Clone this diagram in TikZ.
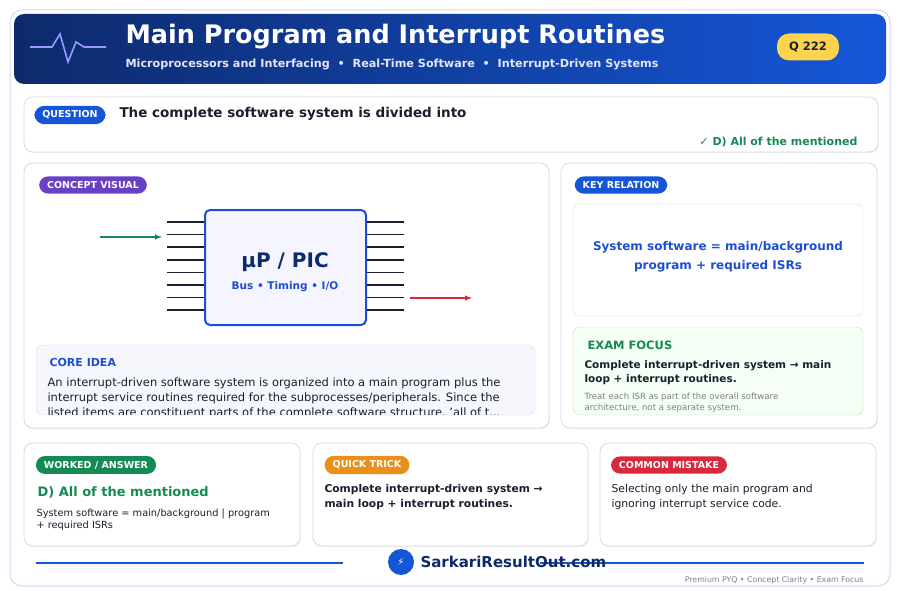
\documentclass[tikz,border=0pt]{standalone}
\usepackage{fontspec}
\setmainfont{DejaVu Sans}
\usetikzlibrary{positioning,shadows}
\definecolor{navy}{HTML}{0D2A6B}
\definecolor{royal}{HTML}{1556D8}
\definecolor{inkblue}{HTML}{1E4FD0}
\definecolor{okgreen}{HTML}{168A55}
\definecolor{alarm}{HTML}{D8283C}
\definecolor{amber}{HTML}{E8901A}
\definecolor{grape}{HTML}{6A3FC8}
\definecolor{edge}{HTML}{D6DCE8}
\definecolor{soft}{HTML}{F5F7FC}
\definecolor{dark}{HTML}{1A1F2E}
\definecolor{gold}{HTML}{FCD34D}
\tikzset{
  card/.style={draw=edge, fill=white, rounded corners=9pt, line width=0.8pt, drop shadow={opacity=0.12, shadow xshift=0.8pt, shadow yshift=-1.2pt}},
  pill/.style={fill=#1, text=white, rounded corners=9pt, font=\bfseries\fontsize{9.5}{10}\selectfont, inner xsep=8pt, inner ysep=5pt},
  body/.style={text=dark, align=left, anchor=north west, font=\fontsize{11.5}{15}\selectfont},
  pin/.style={line width=1.5pt, dark},
}
\begin{document}
\begin{tikzpicture}[x=1pt, y=-1pt]
\useasboundingbox (0,0) rectangle (900,591);
\fill[white] (0,0) rectangle (900,591);
% frame and header
\draw[edge!70!blue!40, fill=white, rounded corners=12pt, line width=1pt] (10,10) rectangle (890,586);
\shade[left color=navy, right color=royal, rounded corners=10pt] (14,14) rectangle (886,84);
\draw[line width=1.6pt, blue!40!white] (30,47) -- (52,47) -- (60,34) -- (68,62) -- (76,42) -- (84,47) -- (106,47);
\node[anchor=west, text=white, font=\bfseries\fontsize{25.5}{27}\selectfont] (title) at (122,37) {Main Program and Interrupt Routines};
\node[anchor=west, text=blue!10!white, font=\bfseries\fontsize{11.2}{12}\selectfont] (sub) at (122,64) {Microprocessors and Interfacing \ • \ Real-Time Software \ • \ Interrupt-Driven Systems};
\node[fill=gold, text=dark, rounded corners=12pt, font=\bfseries\fontsize{11.5}{12}\selectfont, minimum width=62pt, minimum height=27pt] (qno) at (808,47) {Q 222};
% question
\draw[card] (24,97) rectangle (878,152);
\node[pill=royal, rounded corners=10pt] (qpill) at (70,115) {QUESTION};
\node[anchor=west, text=dark, font=\bfseries\fontsize{13.5}{14}\selectfont] (qtext) at (116,114) {The complete software system is divided into};
\node[anchor=east, text=okgreen, font=\bfseries\fontsize{11}{12}\selectfont] (qans) at (861,142) {✓ D) All of the mentioned};
% concept visual
\draw[card] (24,163) rectangle (549,428);
\node[pill=grape] (cpill) at (93,185) {CONCEPT VISUAL};
\foreach \k in {0,...,7} {
  \draw[pin] (167,{222+12.6*\k}) -- (205,{222+12.6*\k});
  \draw[pin] (366,{222+12.6*\k}) -- (404,{222+12.6*\k});
}
\node[draw=inkblue, fill=blue!4, line width=2pt, rounded corners=5pt, minimum width=161pt, minimum height=115pt] (chip) at (285.5,267.5) {};
\node[text=navy, font=\bfseries\fontsize{20}{21}\selectfont] (chipname) at (285,262) {μP / PIC};
\node[text=inkblue, font=\bfseries\fontsize{10.5}{12}\selectfont] (chipbus) at (285,287) {Bus • Timing • I/O};
\coordinate (inA) at (100,237);
\coordinate (inB) at (162,237);
\coordinate (outA) at (410,298);
\coordinate (outB) at (472,298);
\draw[-latex, okgreen, line width=1.4pt] (inA) -- (inB);
\draw[-latex, alarm, line width=1.4pt] (outA) -- (outB);
\draw[edge, fill=soft, rounded corners=7pt] (36,345) rectangle (535,415);
\node[anchor=west, text=inkblue, font=\bfseries\fontsize{11}{12}\selectfont] (core) at (46,362) {CORE IDEA};
\begin{scope}
\clip (36,372) rectangle (535,414);
\node[body] (coretext) at (44,374) {An interrupt-driven software system is organized into a main program plus the\\interrupt service routines required for the subprocesses/peripherals. Since the\\listed items are constituent parts of the complete software structure, 'all of t...};
\end{scope}
% key relation
\draw[card] (561,163) rectangle (877,428);
\node[pill=royal] (kpill) at (621,185) {KEY RELATION};
\draw[edge, fill=white, rounded corners=7pt] (573,204) rectangle (863,316);
\node[text=inkblue, align=center, font=\bfseries\fontsize{12}{19}\selectfont] (krel) at (718,257) {System software = main/background\\program + required ISRs};
\draw[green!60!gray!40, fill=green!4, rounded corners=7pt] (573,327) rectangle (863,415);
\node[anchor=west, text=okgreen, font=\bfseries\fontsize{11.5}{12}\selectfont] (exam) at (584,345) {EXAM FOCUS};
\node[body, font=\bfseries\fontsize{10.5}{13.5}\selectfont] (examtext) at (581,357) {Complete interrupt-driven system → main\\loop + interrupt routines.};
\node[body, text=gray, font=\fontsize{8.6}{11.5}\selectfont] (examnote) at (581,389) {Treat each ISR as part of the overall software\\architecture, not a separate system.};
% bottom cards
\draw[card] (24,443) rectangle (300,546);
\draw[card] (313,443) rectangle (588,546);
\draw[card] (600,443) rectangle (876,546);
\node[pill=okgreen] (wpill) at (96,465) {WORKED / ANSWER};
\node[anchor=west, text=okgreen, font=\bfseries\fontsize{13}{14}\selectfont] (wans) at (34,492) {D) All of the mentioned};
\node[body, font=\fontsize{9.8}{12}\selectfont] (wtext) at (33,505) {System software = main/background | program\\+ required ISRs};
\node[pill=amber] (tpill) at (367,465) {QUICK TRICK};
\node[body, font=\bfseries\fontsize{10.7}{14.5}\selectfont] (ttext) at (321,481) {Complete interrupt-driven system →\\main loop + interrupt routines.};
\node[pill=alarm] (mpill) at (669,465) {COMMON MISTAKE};
\node[body, font=\fontsize{10.8}{14.5}\selectfont] (mtext) at (608,481) {Selecting only the main program and\\ignoring interrupt service code.};
% footer
\coordinate (fa) at (36,563);
\coordinate (fb) at (343,563);
\coordinate (fc) at (864,563);
\draw[royal, line width=1.3pt] (fa) -- (fb);
\draw[royal, line width=1.3pt] (fb -| 540,0) -- (fc);
\node[circle, fill=royal, minimum size=26pt, inner sep=0pt, text=white, font=\fontsize{10}{10}\selectfont] (logo) at (401,562) {⚡};
\node[anchor=west, text=navy, font=\bfseries\fontsize{15}{16}\selectfont] (site) at (417,562) {SarkariResultOut.com};
\node[anchor=east, text=gray, font=\fontsize{7.8}{9}\selectfont] (tag) at (867,580) {Premium PYQ • Concept Clarity • Exam Focus};
\end{tikzpicture}
\end{document}
